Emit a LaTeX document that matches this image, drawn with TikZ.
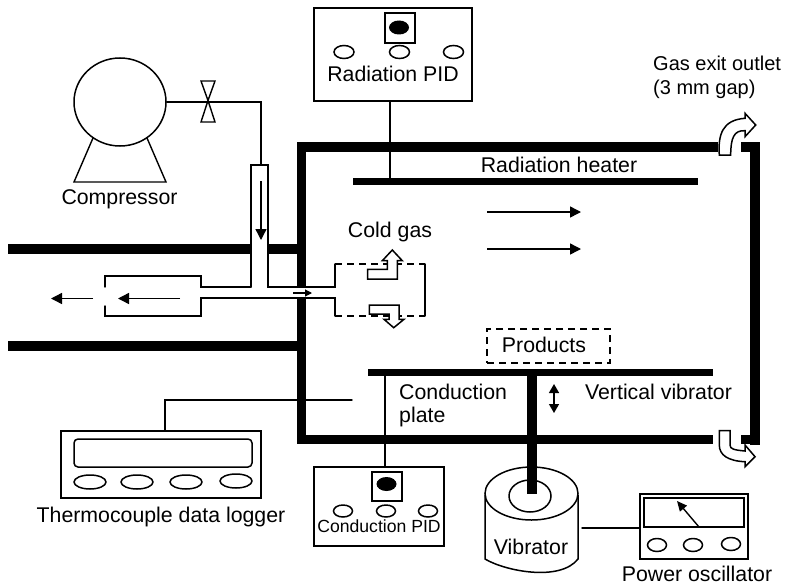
\documentclass[tikz,border=0pt]{standalone}
\usepackage{fontspec}
\setmainfont{Liberation Sans}
\usetikzlibrary{arrows.meta,shapes.geometric}
\tikzset{
  thin line/.style={line width=1.4pt,line cap=round},
  wall/.style={line width=9.5pt,line cap=butt,line join=miter},
  plate/.style={line width=7.5pt,line cap=butt},
  box/.style={draw,line width=1.5pt,inner sep=0pt,fill=white},
  knob/.style={draw,line width=1.5pt,ellipse,inner sep=0pt,minimum width=20pt,minimum height=13pt},
  led/.style={fill=black,ellipse,inner sep=0pt,minimum width=20pt,minimum height=14pt},
  lab/.style={inner sep=0pt,font=\fontsize{21.3}{24}\selectfont},
  gaslab/.style={inner sep=0pt,font=\fontsize{20}{24}\selectfont},
  smalllab/.style={inner sep=0pt,font=\fontsize{17.6}{20}\selectfont},
  flow/.style={line width=1.4pt,-{Triangle[length=11pt,width=11pt]}},
  blockarrow/.style={draw,line width=1.5pt,fill=white,line join=miter},
  dash line/.style={line width=1.4pt,dash pattern=on 7pt off 5pt},
}
\begin{document}
\begin{tikzpicture}[x=1pt,y=-1pt]
\useasboundingbox (0,0) rectangle (791,586);
% chamber
\draw[wall] (718,147) -- (301.7,147) -- (301.7,287);
\draw[wall] (301.7,298) -- (301.7,439.7) -- (713,439.7);
\draw[wall] (741,147) -- (755,147) -- (755,444.5);
\draw[wall] (741,439.7) -- (760,439.7);
\draw[wall] (8,249) -- (251,249);
\draw[wall] (268,249) -- (297,249);
\draw[wall] (8,346) -- (297,346);
% inner parts
\coordinate (heaterL) at (353,181.5);
\coordinate (heaterR) at (698,181.5);
\coordinate (plateL) at (368,372.5);
\coordinate (plateR) at (713,372.5);
\draw[plate] (heaterL) -- (heaterR);
\draw[plate] (plateL) -- (plateR);
% radiation PID
\node[box,minimum width=158pt,minimum height=93pt] (radpid) at (393,54.5) {};
\node[box,minimum width=30pt,minimum height=30pt] (radsq) at (400,28) {};
\node[led] (radled) at (399,27.5) {};
\node[knob] (rk1) at (344,52) {};
\node[knob] (rk2) at (399.5,52) {};
\node[knob] (rk3) at (453.5,52) {};
\node[lab] (radtxt) at (393,73.5) {Radiation PID};
\coordinate (radtap) at (390,101);
\draw[thin line] (radtap) -- (radtap |- heaterL);
\node[lab] (heattxt) at (559,165) {Radiation heater};
\coordinate (f1a) at (487,212); \coordinate (f1b) at (581,212);
\coordinate (f2a) at (487,249); \coordinate (f2b) at (581,249);
\draw[flow] (f1a) -- (f1b);
\draw[flow] (f2a) -- (f2b);
% compressor
\draw[thin line,line join=miter] (93,138) -- (74,182) -- (166,182) -- (147,138);
\node[draw,line width=1.5pt,ellipse,inner sep=0pt,minimum width=92pt,minimum height=88pt] (comp) at (120,102) {};
\node[lab] (comptxt) at (119.5,199) {Compressor};
\coordinate (valve) at (208,100.5);
\coordinate (tubetop) at (261,165);
\draw[thin line] (comp.east) -- (tubetop |- comp.east) -- (tubetop);
\draw[thin line,line join=miter,fill=white] (valve) -- (201,81) -- (215,81) -- cycle;
\draw[thin line,line join=miter,fill=white] (valve) -- (201,122) -- (215,122) -- cycle;
% tube and nozzle
\draw[thin line,line join=miter] (251,287) -- (251,165) -- (268,165) -- (268,287) -- (335,287) -- (335,264);
\draw[thin line,line join=miter] (251,287) -- (201,287) -- (201,276) -- (105,276) -- (105,287);
\draw[thin line,line join=miter] (105,306) -- (105,316) -- (201,316) -- (201,298) -- (335,298) -- (335,316);
\draw[dash line] (335,264) -- (425,264);
\draw[dash line] (335,316) -- (425,316);
\draw[thin line] (425,264) -- (425,316);
\coordinate (v1) at (261,181); \coordinate (v2) at (261,240);
\draw[flow] (v1) -- (v2);
\coordinate (l1) at (180,298.5); \coordinate (l2) at (118,298.5);
\draw[flow] (l1) -- (l2);
\coordinate (l3) at (93,298.5); \coordinate (l4) at (51,298.5);
\draw[flow] (l3) -- (l4);
\coordinate (s1) at (293,293); \coordinate (s2) at (312,293);
\draw[line width=1.1pt,-{Triangle[length=7pt,width=7pt]}] (s1) -- (s2);
\node[lab] (coldtxt) at (390,232) {Cold gas};
% cold gas block arrows
\draw[blockarrow] (367.7,269.3) -- (367.7,279) -- (397.3,279) -- (397.3,260.7) -- (402.3,260.7) -- (392.3,250) -- (382.3,260.7) -- (387.3,260.7) -- (387.3,269.3) -- cycle;
\draw[blockarrow] (369.3,305) -- (399,305) -- (399,319.3) -- (404,319.3) -- (393.7,327.7) -- (384,319.3) -- (389,319.3) -- (389,314) -- (369.3,314) -- cycle;
% outlet arrows
\draw[blockarrow] (719.3,155) .. controls (718,135) and (722,120) .. (745,118.3) -- (745,113.3) -- (755.7,125) -- (745,136.7) -- (745,130.7) .. controls (734,130) and (730.7,138) .. (730.7,155) -- cycle;
\draw[blockarrow] (719.3,430.7) -- (730,430.7) -- (730,445) .. controls (730,449) and (734,450) .. (745,451) -- (745,445) -- (755,456.7) -- (745,466.7) -- (745,461.7) .. controls (728,461) and (719.3,455) .. (719.3,445) -- cycle;
\node[gaslab,anchor=west] (gas1) at (653,63) {Gas exit outlet};
\node[gaslab,anchor=west] (gas2) at (653,89) {(3 mm gap)};
% products
\node[draw,dash line,inner sep=0pt,minimum width=123pt,minimum height=34pt] (prod) at (548.5,346) {};
\node[lab] (prodtxt) at (544,345) {Products};
% plate labels
\node[lab,anchor=west] (cond1) at (399,392) {Conduction};
\node[lab,anchor=west] (cond2) at (399,417) {plate};
\node[lab] (vvtxt) at (658.5,392) {Vertical vibrator};
\coordinate (dv1) at (554,384); \coordinate (dv2) at (554,413);
\draw[line width=1.4pt,{Triangle[length=9pt,width=10pt]}-{Triangle[length=9pt,width=10pt]}] (dv1) -- (dv2);
% conduction PID
\node[box,minimum width=130pt,minimum height=79pt] (condpid) at (379,506.5) {};
\node[box,minimum width=30pt,minimum height=29pt] (condsq) at (387,486.5) {};
\node[led] (condled) at (386.5,484) {};
\node[knob,minimum width=19pt,minimum height=12pt] (ck1) at (343,511) {};
\node[knob,minimum width=19pt,minimum height=12pt] (ck2) at (386,511) {};
\node[knob,minimum width=19pt,minimum height=12pt] (ck3) at (428,511) {};
\node[smalllab] (condtxt) at (379,526) {Conduction PID};
\coordinate (plt) at (385,376);
\draw[thin line] (plt) -- (plt |- condpid.north);
% logger
\node[box,minimum width=200pt,minimum height=67pt] (logger) at (161,464.5) {};
\node[draw,line width=1.5pt,rounded corners=4pt,inner sep=0pt,minimum width=178pt,minimum height=28pt] (logscr) at (163,453) {};
\node[knob,minimum width=32pt,minimum height=14pt] (lk1) at (90,482) {};
\node[knob,minimum width=32pt,minimum height=14pt] (lk2) at (137,482) {};
\node[knob,minimum width=32pt,minimum height=14pt] (lk3) at (186,482) {};
\node[knob,minimum width=32pt,minimum height=14pt] (lk4) at (236,481) {};
\node[lab] (logtxt) at (161,517) {Thermocouple data logger};
\coordinate (tc) at (352,400);
\draw[thin line,line join=miter] (tc) -- (165,400) -- (165,431);
% vibrator
\draw[line width=1.5pt,fill=white] (485,495) -- (485,559) .. controls (505,571) and (560,582) .. (578,559) -- (578,495);
\node[draw,line width=1.5pt,ellipse,inner sep=0pt,fill=white,minimum width=93pt,minimum height=53pt] (vibtop) at (531.5,493.5) {};
\node[draw,line width=1.5pt,ellipse,inner sep=0pt,minimum width=42pt,minimum height=32pt] (vibin) at (530,496) {};
\node[lab] (vibtxt) at (531,547) {Vibrator};
\coordinate (rodtop) at (532,376); \coordinate (rodbot) at (532,494);
\draw[line width=10pt] (rodtop) -- (rodbot);
% oscillator
\node[box,minimum width=108pt,minimum height=65pt] (osc) at (694,526.5) {};
\node[draw,line width=1.5pt,inner sep=0pt,minimum width=100pt,minimum height=29pt] (oscscr) at (694,512.5) {};
\node[knob,minimum width=19pt,minimum height=13pt] (ok1) at (657,545) {};
\node[knob,minimum width=19pt,minimum height=13pt] (ok2) at (693,545) {};
\node[knob,minimum width=19pt,minimum height=13pt] (ok3) at (731,544) {};
\coordinate (n1) at (699,527); \coordinate (n2) at (677,501);
\draw[line width=1.4pt,-{Triangle[length=10pt,width=9pt]}] (n1) -- (n2);
\coordinate (w1) at (582,528);
\draw[thin line] (w1) -- (w1 -| osc.west);
\node[lab] (osctxt) at (697,573.5) {Power oscillator};
\end{tikzpicture}
\end{document}
